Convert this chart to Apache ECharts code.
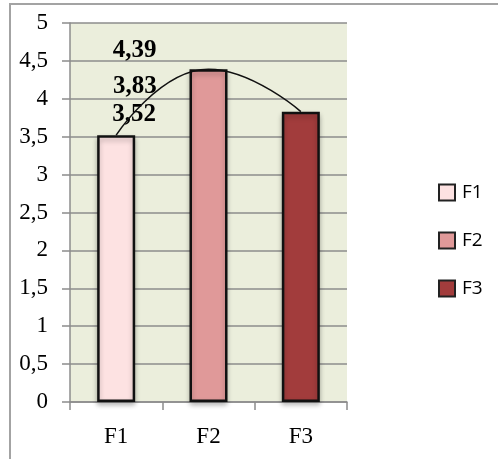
<!DOCTYPE html>
<html>
<head>
<meta charset="utf-8">
<script src="https://cdn.jsdelivr.net/npm/echarts@6/dist/echarts.min.js"></script>
<style>
  html, body { margin: 0; padding: 0; background: #fff; }
  #chart { width: 498px; height: 459px; }
</style>
</head>
<body>
<div id="chart"></div>
<script>
// Category names, mean scores per group, and the value-axis ticks
const categories = ['F1', 'F2', 'F3'];
const seriesNames = ['F1', 'F2', 'F3'];
const values = [3.52, 4.39, 3.83];
const yTicks = { min: 0, max: 5, interval: 0.5 };

const barColors = ['#fde2e2', '#e09999', '#a23c3c'];
// Where each value label sits relative to its bar top (labels are grouped above F1)
const labelOffsets = [[18, -3], [-74, -1], [-166, -8]];

const comma = v => String(v).replace('.', ',');

const barSeries = seriesNames.map((name, i) => ({
  name: name,
  type: 'bar',
  barWidth: 38,
  barGap: '-100%',
  data: categories.map((c, j) => (j === i ? values[i] : '-')),
  itemStyle: {
    color: barColors[i],
    borderColor: '#111',
    borderWidth: 2.5,
    shadowColor: 'rgba(0,0,0,0.25)',
    shadowBlur: 5,
    shadowOffsetY: 3
  },
  label: {
    show: true,
    position: 'top',
    offset: labelOffsets[i],
    formatter: p => comma(p.value),
    fontFamily: 'Liberation Serif',
    fontWeight: 'bold',
    fontSize: 25,
    color: '#000'
  },
  z: 2
}));

// Smooth trend curve across the bar tops
const trend = {
  name: 'trend',
  type: 'line',
  data: values,
  smooth: true,
  symbol: 'none',
  lineStyle: { color: '#111', width: 1.5 },
  z: 5,
  silent: true
};

const chart = echarts.init(document.getElementById('chart'), null, { renderer: 'canvas' });
chart.setOption({
  animation: false,
  backgroundColor: '#fff',
  graphic: [{
    type: 'rect',
    shape: { x: 10, y: 4, width: 700, height: 700 },
    style: { fill: 'none', stroke: '#a3a3a3', lineWidth: 2 },
    silent: true
  }],
  grid: {
    left: 70, right: 151, top: 23, bottom: 57,
    show: true,
    backgroundColor: '#ebeedc',
    borderWidth: 0
  },
  legend: {
    data: seriesNames,
    orient: 'vertical',
    left: 433,
    top: 178,
    itemWidth: 16,
    itemHeight: 16,
    itemGap: 29,
    icon: 'rect',
    textStyle: { fontFamily: 'Open Sans', fontSize: 19, color: '#000', padding: [0, 0, 0, 2] },
    itemStyle: { borderColor: '#222', borderWidth: 2 }
  },
  xAxis: {
    type: 'category',
    data: categories,
    axisLine: { show: true, lineStyle: { color: '#8c8c8c', width: 1.5 } },
    axisTick: { show: true, length: 8, lineStyle: { color: '#8c8c8c', width: 1.5 } },
    axisLabel: { margin: 23, fontFamily: 'Liberation Serif', fontSize: 23, color: '#000' },
    splitLine: { show: false }
  },
  yAxis: {
    type: 'value',
    min: yTicks.min,
    max: yTicks.max,
    interval: yTicks.interval,
    axisLine: { show: true, lineStyle: { color: '#8c8c8c', width: 1.5 } },
    axisTick: { show: true, length: 8, lineStyle: { color: '#8c8c8c', width: 1.5 } },
    axisLabel: {
      margin: 22,
      fontFamily: 'Liberation Serif',
      fontSize: 23,
      color: '#000',
      formatter: v => comma(v)
    },
    splitLine: { show: true, lineStyle: { color: '#8c8c8c', width: 1.5 } }
  },
  series: [...barSeries, trend]
});
</script>
</body>
</html>
